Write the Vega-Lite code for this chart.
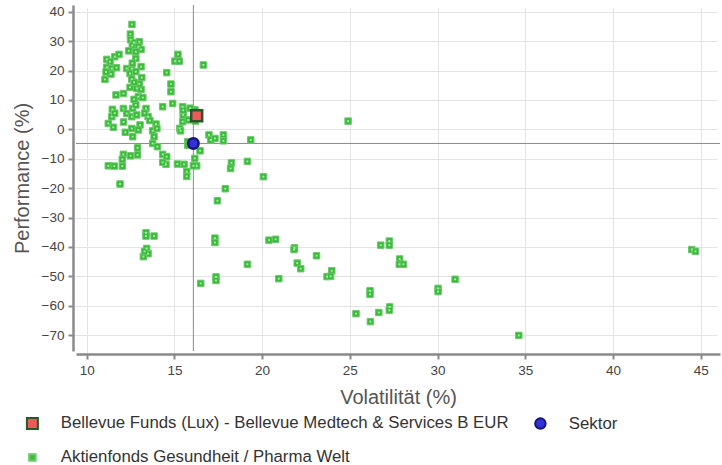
{
"$schema": "https://vega.github.io/schema/vega-lite/v6.json",
"width": 644, "height": 346,
"autosize": {"type": "none"},
"padding": {"left": 76, "top": 5, "right": 2, "bottom": 114},
"config": {
  "font": "Liberation Sans",
  "view": {"stroke": null},
  "axis": {"domainColor": "#8a8a8a", "domainWidth": 2.5, "tickColor": "#8a8a8a", "tickWidth": 2, "tickSize": 5, "gridColor": "#e4e4e4", "gridWidth": 1, "labelFontSize": 13.5, "labelColor": "#444444", "titleFontSize": 20, "titleColor": "#555555", "titleFontWeight": "normal", "offset": 3, "labelPadding": 4, "labelOverlap": false, "tickCount": 30},
  "legend": {"orient": "none", "legendX": -52, "legendY": 410, "columns": 2, "title": null, "labelFontSize": 16.8, "labelColor": "#333333", "labelLimit": 600, "symbolStrokeWidth": 2, "rowPadding": 16, "columnPadding": 22, "labelOffset": 20}
},
"datasets": {
  "cross": [{"v": 16.08, "p": -4.8}],
  "pts": [
{"v":12.58,"p":35.7,"t":"b"},{"v":12.49,"p":32.4,"t":"b"},{"v":12.5,"p":30.5,"t":"b"},{"v":12.7,"p":29.5,"t":"b"},{"v":13.0,"p":29.8,"t":"b"},
{"v":12.6,"p":28.5,"t":"b"},{"v":12.94,"p":28.1,"t":"b"},{"v":13.1,"p":27.2,"t":"b"},{"v":12.4,"p":26.7,"t":"b"},{"v":12.8,"p":26.4,"t":"b"},
{"v":12.8,"p":24.1,"t":"b"},{"v":11.14,"p":23.8,"t":"b"},{"v":11.6,"p":24.7,"t":"b"},{"v":11.84,"p":25.5,"t":"b"},{"v":11.33,"p":23,"t":"b"},
{"v":11.14,"p":21.1,"t":"b"},{"v":11.43,"p":20.7,"t":"b"},{"v":11.7,"p":21,"t":"b"},{"v":11.04,"p":17,"t":"b"},{"v":11.38,"p":18.8,"t":"b"},
{"v":11.1,"p":19.5,"t":"b"},{"v":12.28,"p":20.7,"t":"b"},{"v":12.57,"p":20.7,"t":"b"},{"v":13.1,"p":21.3,"t":"b"},{"v":12.47,"p":19,"t":"b"},
{"v":12.8,"p":19.6,"t":"b"},{"v":12.57,"p":17.1,"t":"b"},{"v":13.14,"p":17.6,"t":"b"},{"v":12.47,"p":14.3,"t":"b"},{"v":12.85,"p":13.9,"t":"b"},
{"v":13.1,"p":13.6,"t":"b"},{"v":12.94,"p":11.1,"t":"b"},{"v":11.67,"p":11.7,"t":"b"},{"v":12.09,"p":12.2,"t":"b"},{"v":15.2,"p":25.5,"t":"b"},
{"v":15.03,"p":23.2,"t":"b"},{"v":15.28,"p":23.2,"t":"b"},{"v":16.65,"p":21.9,"t":"b"},{"v":14.56,"p":19.3,"t":"b"},{"v":14.8,"p":15.4,"t":"b"},
{"v":14.8,"p":12.8,"t":"b"},{"v":14.33,"p":7.7,"t":"b"},{"v":14.9,"p":8.8,"t":"b"},{"v":15.47,"p":7.7,"t":"b"},{"v":15.5,"p":4.9,"t":"b"},
{"v":15.47,"p":2.6,"t":"b"},{"v":15.3,"p":0.3,"t":"b"},{"v":15.35,"p":-0.5,"t":"b"},{"v":16.17,"p":6.6,"t":"b"},{"v":15.79,"p":3.2,"t":"b"},
{"v":11.46,"p":6.8,"t":"b"},{"v":12.09,"p":7.1,"t":"b"},{"v":12.62,"p":7.1,"t":"b"},{"v":12.8,"p":8.3,"t":"b"},{"v":13.38,"p":7.1,"t":"b"},
{"v":11.43,"p":4.3,"t":"b"},{"v":11.23,"p":2,"t":"b"},{"v":11.52,"p":0.7,"t":"b"},{"v":12.28,"p":5.4,"t":"b"},{"v":12.57,"p":4.3,"t":"b"},
{"v":12.85,"p":4.9,"t":"b"},{"v":13.5,"p":4.3,"t":"b"},{"v":13.95,"p":1.8,"t":"b"},{"v":13.04,"p":1.5,"t":"b"},{"v":12.57,"p":0.3,"t":"b"},
{"v":12.62,"p":-2.5,"t":"b"},{"v":12.94,"p":-0.2,"t":"b"},{"v":13.76,"p":-0.5,"t":"b"},{"v":13.84,"p":-2.5,"t":"b"},{"v":13.76,"p":-4.8,"t":"b"},
{"v":14.03,"p":-5.9,"t":"b"},{"v":12.9,"p":-6.3,"t":"b"},{"v":12.9,"p":-8.7,"t":"b"},{"v":12.5,"p":-9,"t":"b"},{"v":12.09,"p":-8.5,"t":"b"},
{"v":12.03,"p":-10.2,"t":"b"},{"v":12.03,"p":-12.5,"t":"b"},{"v":11.23,"p":-12.4,"t":"b"},{"v":11.57,"p":-12.5,"t":"b"},{"v":11.9,"p":-18.6,"t":"b"},
{"v":14.33,"p":-8.5,"t":"b"},{"v":14.56,"p":-9.3,"t":"b"},{"v":14.52,"p":-11.9,"t":"b"},{"v":14.33,"p":-11.2,"t":"b"},{"v":15.17,"p":-11.8,"t":"b"},
{"v":15.55,"p":-11.9,"t":"b"},{"v":15.7,"p":-14.4,"t":"b"},{"v":15.7,"p":-16,"t":"b"},{"v":16.16,"p":-9.9,"t":"b"},{"v":16.27,"p":-12.4,"t":"b"},
{"v":16.08,"p":-12.4,"t":"b"},{"v":16.46,"p":-7.3,"t":"b"},{"v":15.76,"p":-4.2,"t":"b"},{"v":15.76,"p":-5.4,"t":"b"},{"v":16.97,"p":-1.9,"t":"b"},
{"v":17.07,"p":-3.6,"t":"b"},{"v":17.31,"p":-3.1,"t":"b"},{"v":17.79,"p":-1.9,"t":"b"},{"v":17.79,"p":-3.9,"t":"b"},{"v":19.35,"p":-3.6,"t":"b"},
{"v":18.25,"p":-11.4,"t":"b"},{"v":18.2,"p":-13.3,"t":"b"},{"v":19.16,"p":-10.9,"t":"b"},{"v":20.07,"p":-16.1,"t":"b"},{"v":17.9,"p":-20.2,"t":"b"},
{"v":17.45,"p":-24.3,"t":"b"},{"v":24.9,"p":2.8,"t":"b"},{"v":13.3,"p":5.5,"t":"b"},{"v":13.6,"p":3,"t":"b"},{"v":11.6,"p":5.5,"t":"b"},
{"v":12.1,"p":2.5,"t":"b"},{"v":12.2,"p":-1,"t":"b"},{"v":13.2,"p":10.8,"t":"b"},{"v":12.7,"p":10.2,"t":"b"},{"v":14.0,"p":0.3,"t":"b"},
{"v":15.5,"p":6.5,"t":"b"},{"v":16.2,"p":2.8,"t":"b"},{"v":15.9,"p":7.2,"t":"b"},{"v":13.0,"p":15.5,"t":"b"},{"v":12.6,"p":22.5,"t":"b"},
{"v":12.7,"p":16,"t":"b"},
{"v":13.38,"p":-35.2,"t":"b"},{"v":13.38,"p":-36.3,"t":"b"},{"v":13.84,"p":-36.3,"t":"b"},{"v":13.42,"p":-40.5,"t":"b"},{"v":13.5,"p":-42.3,"t":"b"},
{"v":13.23,"p":-43.3,"t":"b"},{"v":13.3,"p":-41.5,"t":"b"},{"v":17.31,"p":-37,"t":"b"},{"v":17.31,"p":-38.5,"t":"b"},{"v":19.16,"p":-45.9,"t":"b"},
{"v":16.5,"p":-52.4,"t":"b"},{"v":17.37,"p":-50.2,"t":"b"},{"v":17.37,"p":-51.4,"t":"b"},{"v":20.39,"p":-37.7,"t":"b"},{"v":20.77,"p":-37.4,"t":"b"},
{"v":20.95,"p":-50.8,"t":"b"},{"v":21.84,"p":-40.3,"t":"b"},{"v":21.82,"p":-40.9,"t":"b"},{"v":22.0,"p":-45.5,"t":"b"},{"v":22.2,"p":-47.4,"t":"b"},
{"v":23.1,"p":-43,"t":"b"},{"v":23.7,"p":-50.1,"t":"b"},{"v":23.97,"p":-48.1,"t":"b"},{"v":23.9,"p":-50,"t":"b"},{"v":25.35,"p":-62.7,"t":"b"},
{"v":26.15,"p":-54.9,"t":"b"},{"v":26.15,"p":-56.1,"t":"b"},{"v":26.17,"p":-65.4,"t":"b"},{"v":26.65,"p":-62.3,"t":"b"},{"v":26.76,"p":-39.4,"t":"b"},
{"v":27.25,"p":-38,"t":"b"},{"v":27.25,"p":-39.4,"t":"b"},{"v":27.27,"p":-60.4,"t":"b"},{"v":27.25,"p":-61.5,"t":"b"},{"v":27.84,"p":-44.1,"t":"b"},
{"v":27.82,"p":-45.9,"t":"b"},{"v":28.05,"p":-45.9,"t":"b"},{"v":30.03,"p":-54.1,"t":"b"},{"v":30.03,"p":-55.2,"t":"b"},{"v":31.0,"p":-51,"t":"b"},
{"v":34.63,"p":-70.1,"t":"b"},{"v":44.49,"p":-40.9,"t":"b"},{"v":44.7,"p":-41.5,"t":"b"},
{"v":16.27,"p":4.6,"t":"a"},{"v":16.08,"p":-4.8,"t":"c"}
  ]
},
"layer": [
  {"data": {"name": "cross"}, "mark": {"type": "rule", "color": "#8a8a8a", "strokeWidth": 1},
   "encoding": {"x": {"field": "v", "type": "quantitative", "scale": {"domain": [9.39, 46.1], "nice": false, "zero": false}, "axis": {"values": [10,15,20,25,30,35,40,45], "title": "Volatilität (%)", "titlePadding": 11, "tickCount": 30}}}},
  {"data": {"name": "cross"}, "mark": {"type": "rule", "color": "#8a8a8a", "strokeWidth": 1},
   "encoding": {"y": {"field": "p", "type": "quantitative", "scale": {"domain": [-75.4, 42.3], "nice": false, "zero": false}, "axis": {"values": [-70,-60,-50,-40,-30,-20,-10,0,10,20,30,40], "title": "Performance (%)", "titlePadding": 9, "tickCount": 30}}}},
  {"data": {"name": "pts"}, "transform": [{"filter": "datum.t == 'b'"}],
   "mark": {"type": "point", "filled": true, "strokeWidth": 1, "opacity": 1},
   "encoding": {
     "x": {"field": "v", "type": "quantitative", "scale": {"domain": [9.39, 46.1], "nice": false, "zero": false}, "axis": {"values": [10,15,20,25,30,35,40,45], "title": "Volatilität (%)", "titlePadding": 11, "tickCount": 30}},
     "y": {"field": "p", "type": "quantitative", "scale": {"domain": [-75.4, 42.3], "nice": false, "zero": false}, "axis": {"values": [-70,-60,-50,-40,-30,-20,-10,0,10,20,30,40], "title": "Performance (%)", "titlePadding": 9, "tickCount": 30}},
     "color": {"field": "t", "type": "nominal", "scale": {"domain": ["a","b","c"], "range": ["#f0595a","#3db83d","#3232d8"]}, "legend": {"labelExpr": "datum.value=='a' ? 'Bellevue Funds (Lux) - Bellevue Medtech & Services B EUR' : datum.value=='c' ? 'Sektor' : 'Aktienfonds Gesundheit / Pharma  Welt'"}},
     "stroke": {"field": "t", "type": "nominal", "scale": {"domain": ["a","b","c"], "range": ["#2b552b","#6cc96c","#15157a"]}},
     "shape": {"field": "t", "type": "nominal", "scale": {"domain": ["a","b","c"], "range": ["square","square","circle"]}},
     "size": {"field": "t", "type": "nominal", "scale": {"type": "ordinal", "domain": ["a","b","c"], "range": [120,42,110]}}
   }},
  {"data": {"name": "pts"}, "transform": [{"filter": "datum.t == 'b'"}],
   "mark": {"type": "square", "color": "#8ff58f", "size": 4, "opacity": 1},
   "encoding": {
     "x": {"field": "v", "type": "quantitative", "scale": {"domain": [9.39, 46.1], "nice": false, "zero": false}},
     "y": {"field": "p", "type": "quantitative", "scale": {"domain": [-75.4, 42.3], "nice": false, "zero": false}}
   }},
  {"data": {"name": "pts"}, "transform": [{"filter": "datum.t != 'b'"}],
   "mark": {"type": "point", "filled": true, "strokeWidth": 2.5, "opacity": 1},
   "encoding": {
     "x": {"field": "v", "type": "quantitative", "scale": {"domain": [9.39, 46.1], "nice": false, "zero": false}},
     "y": {"field": "p", "type": "quantitative", "scale": {"domain": [-75.4, 42.3], "nice": false, "zero": false}},
     "color": {"field": "t", "type": "nominal", "scale": {"domain": ["a","b","c"], "range": ["#f0595a","#3db83d","#3232d8"]}, "legend": {"labelExpr": "datum.value=='a' ? 'Bellevue Funds (Lux) - Bellevue Medtech & Services B EUR' : datum.value=='c' ? 'Sektor' : 'Aktienfonds Gesundheit / Pharma  Welt'"}},
     "stroke": {"field": "t", "type": "nominal", "scale": {"domain": ["a","b","c"], "range": ["#2b552b","#6cc96c","#15157a"]}},
     "shape": {"field": "t", "type": "nominal", "scale": {"domain": ["a","b","c"], "range": ["square","square","circle"]}},
     "size": {"field": "t", "type": "nominal", "scale": {"type": "ordinal", "domain": ["a","b","c"], "range": [120,42,110]}}
   }}
]
}
